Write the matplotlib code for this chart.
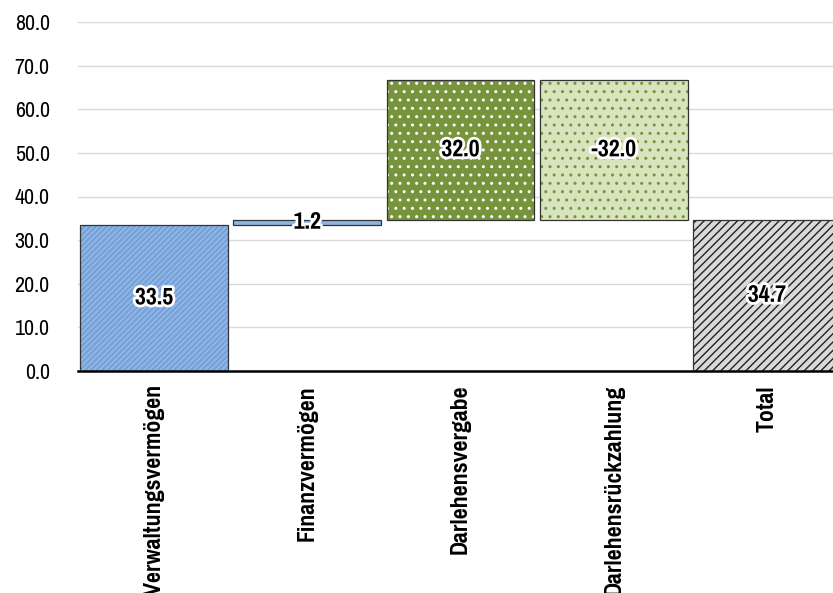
import matplotlib
matplotlib.use("Agg")
import matplotlib.pyplot as plt
import matplotlib.patheffects as pe
from matplotlib import font_manager

categories = ["Verwaltungsvermögen", "Finanzvermögen", "Darlehensvergabe", "Darlehensrückzahlung", "Total"]
values = [33.5, 1.2, 32.0, -32.0, 34.7]
is_total = [False, False, False, False, True]
yticks = [0, 10, 20, 30, 40, 50, 60, 70, 80]

fills = ["#8DB4E2", "#8DB4E2", "#77933C", "#D7E4BD", "#D9D9D9"]
hatch_cols = ["#6E9AD6", "#B8D0EE", "#FFFFFF", "#77933C", "#222222"]
hatches = ["//////", "", "..", "..", "////"]

bold_fams = {f.name for f in font_manager.fontManager.ttflist
             if (isinstance(f.weight, int) and f.weight >= 700) or f.weight == "bold"}
reg_fams = {f.name for f in font_manager.fontManager.ttflist}
cands = ["Liberation Sans Narrow", "Arial Narrow", "Pragati Narrow", "PT Sans Narrow",
         "Roboto Condensed", "Archivo Narrow", "Open Sans Condensed", "Liberation Sans"]
fam_b = next(c for c in cands if c in bold_fams)
fam_r = next(c for c in cands if c in reg_fams)
plt.rcParams['font.family'] = [fam_b, "DejaVu Sans"]

fig = plt.figure(figsize=(8.33, 5.93), dpi=100)
ax = fig.add_axes([77.5/833, 1-371/593, 1-77.5/833, (371-22)/593])

bottoms, heights = [], []
run = 0.0
for v, t in zip(values, is_total):
    if t:
        bottoms.append(0); heights.append(v)
    else:
        if v >= 0:
            bottoms.append(run); heights.append(v)
        else:
            bottoms.append(run + v); heights.append(-v)
        run += v

x = list(range(len(categories)))
w = 0.965
labels = []
for i in x:
    ax.bar(i, heights[i], bottom=bottoms[i], width=w, color=fills[i],
           edgecolor=hatch_cols[i], hatch=hatches[i], linewidth=0, zorder=2)
    ax.bar(i, heights[i], bottom=bottoms[i], width=w, color="none",
           edgecolor="#333333", linewidth=0.9, zorder=3)
    labels.append(ax.text(i, bottoms[i] + heights[i]/2, f"{values[i]:.1f}", ha="center", va="center",
            fontsize=16, fontweight="bold", color="black", zorder=5, family=[fam_b, "DejaVu Sans"],
            path_effects=[pe.withStroke(linewidth=4, foreground="white")]))

ax.set_xlim(-0.5, 4 + (833-767)/153)
ax.set_ylim(0, 80)
ax.set_yticks(yticks)
ax.set_yticklabels([f"{t:.1f}" for t in yticks], fontsize=15, family=[fam_r, "DejaVu Sans"])
ax.yaxis.grid(True, color="#D9D9D9", linewidth=1, zorder=0)
ax.set_axisbelow(True)
for s in ["top", "right", "left"]:
    ax.spines[s].set_visible(False)
ax.spines["bottom"].set_linewidth(1.8)
ax.spines["bottom"].set_color("black")
ax.tick_params(axis="y", length=0, pad=20)
ax.tick_params(axis="x", length=0, pad=10)
ax.set_xticks(x)
xl = ax.set_xticklabels(categories, rotation=90, fontsize=17, fontweight="bold",
                        ha="center", va="top", family=[fam_b, "DejaVu Sans"])

# fit sizes to reference extents
fig.canvas.draw()
r = fig.canvas.get_renderer()
h = xl[2].get_window_extent(r).height
xs = 17 * 170 / h
for t in xl:
    t.set_fontsize(xs)
yl = ax.get_yticklabels()
wy = yl[-1].get_window_extent(r).width
ys = 15 * 35 / wy
for t in yl:
    t.set_fontsize(ys)
wd = labels[0].get_window_extent(r).width
ds = 16 * 38 / wd
for t in labels:
    t.set_fontsize(ds)

fig.savefig("out.png", dpi=100)
